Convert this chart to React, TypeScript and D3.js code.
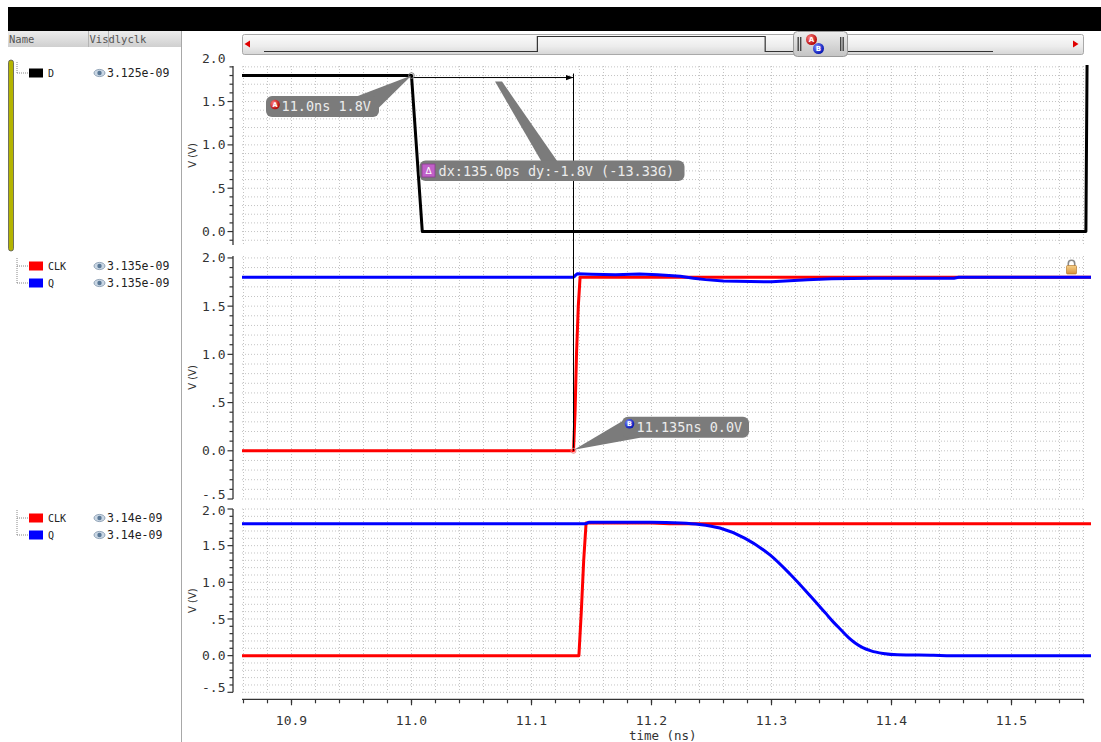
import React from "react";
import * as d3 from "d3";

const W = 1101;
const H = 742;

// ---- time axis (ns) ----
const timeMinorStart = 10.86;
const timeMinorStep = 0.02;
const timeMinorCount = 36;
const timeMajorTicks = [10.9, 11.0, 11.1, 11.2, 11.3, 11.4, 11.5];
const timeTickLabels = ["10.9", "11.0", "11.1", "11.2", "11.3", "11.4", "11.5"];

// ---- voltage tick labels ----
const topTicks = [2.0, 1.5, 1.0, 0.5, 0.0];
const topTickLabels = ["2.0", "1.5", "1.0", ".5", "0.0"];
const lowTicks = [2.0, 1.5, 1.0, 0.5, 0.0, -0.5];
const lowTickLabels = ["2.0", "1.5", "1.0", ".5", "0.0", "-.5"];

// ---- waveforms: [time ns, volts] ----
const dWave: [number, number][] = [
  [10.85, 1.8], [11.0, 1.8], [11.009, 0.0], [11.562, 0.0], [11.563, 2.0],
];

const clkWaveA: [number, number][] = [
  [10.85, 0.0], [11.135, 0.0], [11.1363, 0.4], [11.1375, 1.0], [11.139, 1.5],
  [11.1405, 1.8], [11.57, 1.8],
];
const qWaveA: [number, number][] = [
  [10.85, 1.8], [11.135, 1.8], [11.138, 1.835], [11.15, 1.83], [11.17, 1.825],
  [11.19, 1.833], [11.205, 1.825], [11.224, 1.81], [11.235, 1.79], [11.245, 1.775],
  [11.26, 1.76], [11.3, 1.752], [11.315, 1.763], [11.33, 1.773], [11.35, 1.783],
  [11.385, 1.79], [11.452, 1.79], [11.456, 1.8], [11.57, 1.8],
];

const clkWaveB: [number, number][] = [
  [10.85, 0.0], [11.1395, 0.0], [11.1415, 0.6], [11.1435, 1.3], [11.1455, 1.81],
  [11.2, 1.81], [11.215, 1.8], [11.57, 1.8],
];
const qWaveB: [number, number][] = [
  [10.85, 1.8], [11.145, 1.8], [11.148, 1.82], [11.2, 1.82], [11.224, 1.81],
  [11.24, 1.79], [11.257, 1.74], [11.278, 1.6], [11.299, 1.37], [11.315, 1.12],
  [11.332, 0.82], [11.345, 0.58], [11.352, 0.45], [11.358, 0.35], [11.364, 0.25],
  [11.37, 0.17], [11.376, 0.11], [11.383, 0.065], [11.393, 0.03], [11.405, 0.012],
  [11.435, 0.005], [11.45, 0.0], [11.57, 0.0],
];

// ---- overview strip (full run, ns) ----
const overviewWave: [number, number][] = [
  [0, 0], [12, 0], [12, 1.8], [22, 1.8], [22, 0], [32, 0],
];

// ---- markers ----
const markerA = { t: 11.0, v: 1.8 };
const markerB = { t: 11.135, v: 0.0 };

const MONO = "'DejaVu Sans Mono', monospace";
const SANS = "'DejaVu Sans', sans-serif";

const x = d3.scaleLinear().domain([10.86, 11.56]).range([243.5, 1083.5]);
const plotLeft = 242;
const plotClipRight = 1091;
const axisX = 233;

type Series = { data: [number, number][]; color: string; smooth?: boolean };
type Panel = {
  id: string;
  y: d3.ScaleLinear<number, number>;
  ticks: number[];
  labels: string[];
  series: Series[];
};

const panels: Panel[] = [
  {
    id: "p1",
    y: d3.scaleLinear().domain([-0.155, 1.91]).range([245, 66]),
    ticks: topTicks,
    labels: topTickLabels,
    series: [{ data: dWave, color: "#000000" }],
  },
  {
    id: "p2",
    y: d3.scaleLinear().domain([-0.5, 2.02]).range([499, 256]),
    ticks: lowTicks,
    labels: lowTickLabels,
    series: [
      { data: clkWaveA, color: "#ff0000" },
      { data: qWaveA, color: "#0000ff" },
    ],
  },
  {
    id: "p3",
    y: d3.scaleLinear().domain([-0.5, 2.0]).range([692.3, 509]),
    ticks: lowTicks,
    labels: lowTickLabels,
    series: [
      { data: clkWaveB, color: "#ff0000" },
      { data: qWaveB, color: "#0000ff", smooth: true },
    ],
  },
];

const minorTimes = d3.range(timeMinorCount).map((i) => timeMinorStart + i * timeMinorStep);

function tenths(domain: number[]) {
  const lo = Math.ceil(domain[0] * 10 - 1e-6);
  const hi = Math.floor(domain[1] * 10 + 1e-6);
  return d3.range(lo, hi + 1).map((i) => i / 10);
}

function Eye({ cx, cy }: { cx: number; cy: number }) {
  return (
    <g>
      <ellipse cx={cx} cy={cy} rx={5.5} ry={3.6} fill="#c9d6e3" stroke="#7d93aa" strokeWidth={0.8} />
      <circle cx={cx} cy={cy} r={2.2} fill="#5a7896" />
    </g>
  );
}

function LegendRow({ y, color, name, value }: { y: number; color: string; name: string; value: string }) {
  return (
    <g>
      <line x1={17} x2={28} y1={y} y2={y} stroke="#888" strokeDasharray="1,1" />
      <rect x={29} y={y - 4.5} width={14} height={9} fill={color} />
      <text x={48} y={y} dy="0.35em" fontFamily={MONO} fontSize={10} fill="#222">{name}</text>
      <Eye cx={99.5} cy={y} />
      <text x={107} y={y} dy="0.35em" fontFamily={MONO} fontSize={11.5} fill="#222">{value}</text>
    </g>
  );
}

function Callout({
  box, pointer, children,
}: { box: [number, number, number, number]; pointer: [number, number][]; children: React.ReactNode }) {
  const [bx, by, bw, bh] = box;
  return (
    <g>
      <polygon points={pointer.map((p) => p.join(",")).join(" ")} fill="#7b7b7b" />
      <rect x={bx} y={by} width={bw} height={bh} rx={6} fill="#7b7b7b" />
      {children}
    </g>
  );
}

export default function App() {
  const p1 = panels[0];
  const p2 = panels[1];
  const ax = x(markerA.t);
  const ay = p1.y(markerA.v);
  const bx = x(markerB.t);
  const by = p2.y(markerB.v);

  const dxPs = (markerB.t - markerA.t) * 1000;
  const dyV = markerB.v - markerA.v;
  const slopeG = dyV / (dxPs * 1e-12) / 1e9;
  const labelA = `${markerA.t.toFixed(1)}ns ${markerA.v.toFixed(1)}V`;
  const labelB = `${markerB.t.toFixed(3)}ns ${markerB.v.toFixed(1)}V`;
  const labelD = `dx:${dxPs.toFixed(1)}ps dy:${dyV.toFixed(1)}V (${slopeG.toFixed(2)}G)`;

  const ovX = d3.scaleLinear().domain([0, 32]).range([264, 993]);
  const ovY = d3.scaleLinear().domain([0, 1.8]).range([51.5, 36.5]);
  const ovLine = d3.line<[number, number]>().x((d) => ovX(d[0])).y((d) => ovY(d[1]));

  const lastPanel = panels[2];
  const xAxisY = lastPanel.y.range()[0] + 7;

  return (
    <svg
      width={W}
      height={H}
      viewBox={`0 0 ${W} ${H}`}
      style={{ position: "absolute", left: 0, top: 0, background: "#ffffff" }}
    >
      <defs>
        <linearGradient id="hdr" x1="0" y1="0" x2="0" y2="1">
          <stop offset="0" stopColor="#ededed" />
          <stop offset="1" stopColor="#cfcfcf" />
        </linearGradient>
        <linearGradient id="scroll" x1="0" y1="0" x2="0" y2="1">
          <stop offset="0" stopColor="#fbfbfb" />
          <stop offset="0.6" stopColor="#ececec" />
          <stop offset="1" stopColor="#d6d6d6" />
        </linearGradient>
        <linearGradient id="thumb" x1="0" y1="0" x2="0" y2="1">
          <stop offset="0" stopColor="#eeeeee" />
          <stop offset="1" stopColor="#c4c4c4" />
        </linearGradient>
        <linearGradient id="lock" x1="0" y1="0" x2="0" y2="1">
          <stop offset="0" stopColor="#f6d08a" />
          <stop offset="1" stopColor="#d8933a" />
        </linearGradient>
        <radialGradient id="ballA" cx="0.35" cy="0.35" r="0.7">
          <stop offset="0" stopColor="#ff8080" />
          <stop offset="1" stopColor="#b00000" />
        </radialGradient>
        <radialGradient id="ballB" cx="0.35" cy="0.35" r="0.7">
          <stop offset="0" stopColor="#7f8cff" />
          <stop offset="1" stopColor="#0010b0" />
        </radialGradient>
        {panels.map((p) => {
          const [b, t] = p.y.range();
          return (
            <clipPath id={`clip-${p.id}`} key={p.id}>
              <rect x={plotLeft} y={t - 1} width={plotClipRight - plotLeft} height={b - t + 2} />
            </clipPath>
          );
        })}
        <marker id="arrowR" viewBox="0 0 10 10" refX="10" refY="5" markerWidth="8" markerHeight="8" orient="auto">
          <path d="M0,1.5 L10,5 L0,8.5 z" fill="#000" />
        </marker>
      </defs>

      {/* title bar */}
      <rect x={8} y={7} width={W - 8} height={24} fill="#000" />

      {/* signal list header */}
      <rect x={8} y={31} width={174} height={16} fill="url(#hdr)" />
      <line x1={88.5} x2={88.5} y1={31} y2={47} stroke="#b5b5b5" />
      <line x1={108.5} x2={108.5} y1={31} y2={47} stroke="#b5b5b5" />
      <text x={9} y={39} dy="0.35em" fontFamily={MONO} fontSize={10.5} fill="#555">Name</text>
      <text x={89.5} y={39} dy="0.35em" fontFamily={MONO} fontSize={10.5} fill="#555">Visdlyclk</text>
      <line x1={181.5} x2={181.5} y1={31} y2={H} stroke="#a8a8a8" />

      {/* group bar for top strip */}
      <rect x={8.5} y={60} width={5} height={191} rx={2.5} fill="#b4b400" stroke="#555" strokeWidth={0.8} />
      <line x1={17} x2={17} y1={62} y2={73} stroke="#888" strokeDasharray="1,1" />
      <LegendRow y={73} color="#000000" name="D" value="3.125e-09" />

      <line x1={17} x2={17} y1={258} y2={283} stroke="#888" strokeDasharray="1,1" />
      <LegendRow y={266} color="#ff0000" name="CLK" value="3.135e-09" />
      <LegendRow y={283} color="#0000ff" name="Q" value="3.135e-09" />

      <line x1={17} x2={17} y1={510} y2={535} stroke="#888" strokeDasharray="1,1" />
      <LegendRow y={518} color="#ff0000" name="CLK" value="3.14e-09" />
      <LegendRow y={535} color="#0000ff" name="Q" value="3.14e-09" />

      {/* overview / scroll strip */}
      <rect x={242.5} y={34.5} width={841} height={20} rx={2} fill="url(#scroll)" stroke="#a9a9a9" />
      <path d={ovLine(overviewWave) || ""} fill="none" stroke="#333" strokeWidth={1.2} />
      <path d="M244.5,44 L250,40.5 L250,47.5 z" fill="#e00000" />
      <path d="M1078.5,44 L1073,40.5 L1073,47.5 z" fill="#e00000" />
      <rect x={793.5} y={31.5} width={54} height={25} rx={4} fill="url(#thumb)" stroke="#9a9a9a" />
      <rect x={797.5} y={37} width={1.4} height={14} fill="#444" />
      <rect x={800} y={37} width={1.4} height={14} fill="#444" />
      <rect x={840} y={37} width={1.4} height={14} fill="#444" />
      <rect x={842.5} y={37} width={1.4} height={14} fill="#444" />
      <circle cx={811.5} cy={39.5} r={5.5} fill="url(#ballA)" />
      <text x={811.5} y={39.8} dy="0.35em" textAnchor="middle" fontFamily={SANS} fontSize={7} fontWeight="bold" fill="#fff">A</text>
      <circle cx={818.5} cy={48.5} r={5.5} fill="url(#ballB)" />
      <text x={818.5} y={48.8} dy="0.35em" textAnchor="middle" fontFamily={SANS} fontSize={7} fontWeight="bold" fill="#fff">B</text>

      {/* strips */}
      {panels.map((p) => {
        const [b, t] = p.y.range();
        const [d0, d1] = p.y.domain();
        const gridV = tenths(p.y.domain());
        const line = d3
          .line<[number, number]>()
          .x((d) => x(d[0]))
          .y((d) => p.y(d[1]));
        const smoothLine = d3
          .line<[number, number]>()
          .x((d) => x(d[0]))
          .y((d) => p.y(d[1]))
          .curve(d3.curveMonotoneX);
        const mid = (t + b) / 2;
        return (
          <g key={p.id}>
            {/* grid */}
            {minorTimes.map((tm, i) => (
              <line key={`gv${i}`} x1={x(tm)} x2={x(tm)} y1={t} y2={b} stroke="#c4c4c4" strokeDasharray="1,2" />
            ))}
            {gridV.map((v, i) => (
              <line key={`gh${i}`} x1={plotLeft} x2={x(11.56)} y1={p.y(v)} y2={p.y(v)} stroke="#c4c4c4" strokeDasharray="1,2" />
            ))}
            {/* y axis */}
            <line x1={axisX} x2={axisX} y1={t} y2={b} stroke="#333" strokeWidth={1.3} />
            {gridV.map((v, i) => {
              const major = Math.abs(v * 2 - Math.round(v * 2)) < 1e-6;
              return (
                <line key={`yt${i}`} x1={axisX - (major ? 5.5 : 3.5)} x2={axisX} y1={p.y(v)} y2={p.y(v)} stroke="#333" strokeWidth={1.2} />
              );
            })}
            {p.ticks.map((v, i) => {
              const inside = v >= d0 - 1e-6 && v <= d1 + 1e-6;
              const yy = inside ? Math.max(t + 1, Math.min(b - 4.5, p.y(v))) : p.y(v);
              return (
                <text key={`yl${i}`} x={225.5} y={yy} dy="0.35em" textAnchor="end" fontFamily={MONO} fontSize={13} fill="#333">
                  {p.labels[i]}
                </text>
              );
            })}
            <text
              transform={`translate(192,${mid}) rotate(-90)`}
              textAnchor="middle"
              dy="0.35em"
              fontFamily={SANS}
              fontSize={10}
              fill="#333"
            >
              V (V)
            </text>
            {/* traces */}
            <g clipPath={`url(#clip-${p.id})`}>
              {p.series.map((s, i) => (
                <path
                  key={`s${i}`}
                  d={(s.smooth ? smoothLine(s.data) : line(s.data)) || ""}
                  fill="none"
                  stroke={s.color}
                  strokeWidth={3}
                  strokeLinejoin="round"
                  strokeLinecap="round"
                />
              ))}
            </g>
          </g>
        );
      })}

      {/* time axis */}
      <line x1={plotLeft} x2={x(11.56)} y1={xAxisY} y2={xAxisY} stroke="#333" strokeWidth={1.3} />
      {minorTimes.map((tm, i) => (
        <line key={`xt${i}`} x1={x(tm)} x2={x(tm)} y1={xAxisY} y2={xAxisY + 4} stroke="#333" strokeWidth={1.2} />
      ))}
      {timeMajorTicks.map((tm, i) => (
        <g key={`xm${i}`}>
          <line x1={x(tm)} x2={x(tm)} y1={xAxisY} y2={xAxisY + 6} stroke="#333" strokeWidth={1.2} />
          <text x={x(tm)} y={xAxisY + 21} dy="0.35em" textAnchor="middle" fontFamily={MONO} fontSize={13} fill="#333">
            {timeTickLabels[i]}
          </text>
        </g>
      ))}
      <text x={(plotLeft + x(11.56)) / 2} y={736} dy="0.35em" textAnchor="middle" fontFamily={MONO} fontSize={12.5} fill="#333">
        time (ns)
      </text>

      {/* lock badge */}
      <g>
        <path d="M1068.3,266 v-2.5 a3.2,3.2 0 0 1 6.4,0 v2.5" fill="none" stroke="#8a8a8a" strokeWidth={1.6} />
        <rect x={1066.5} y={265.5} width={10} height={8.5} rx={1} fill="url(#lock)" stroke="#b07020" strokeWidth={0.6} />
      </g>

      {/* marker A -> B delta */}
      <line x1={bx} x2={bx} y1={ay - 2} y2={by} stroke="#000" strokeWidth={1} />
      <line x1={ax} x2={bx} y1={ay + 2} y2={ay + 2} stroke="#000" strokeWidth={1} markerEnd="url(#arrowR)" />
      <circle cx={ax} cy={ay} r={2.8} fill="none" stroke="#888" strokeWidth={1} />
      <circle cx={bx} cy={by} r={2.5} fill="none" stroke="#e88" strokeWidth={1} />

      <Callout
        box={[ax - 145.5, ay + 20.5, 113, 21]}
        pointer={[[ax - 55, ay + 21], [ax - 32.5, ay + 32], [ax, ay]]}
      >
        <circle cx={ax - 136.5} cy={ay + 29} r={4.8} fill="url(#ballA)" />
        <text x={ax - 136.5} y={ay + 29.3} dy="0.35em" textAnchor="middle" fontFamily={SANS} fontSize={6.5} fontWeight="bold" fill="#fff">A</text>
        <text x={ax - 130} y={ay + 31} dy="0.35em" fontFamily={MONO} fontSize={13.5} fill="#ececec">{labelA}</text>
      </Callout>

      <Callout
        box={[ax + 8, ay + 85, 265, 20.5]}
        pointer={[[ax + 83.5, ay + 6], [ax + 90.5, ay + 6], [ax + 146, ay + 86], [ax + 130, ay + 86]]}
      >
        <rect x={ax + 10.5} y={ay + 88.5} width={13} height={13} fill="#c060c8" stroke="#8a3a90" strokeWidth={0.8} />
        <text x={ax + 17} y={ay + 95.5} dy="0.35em" textAnchor="middle" fontFamily={SANS} fontSize={9} fill="#fff">Δ</text>
        <text x={ax + 27} y={ay + 95.5} dy="0.35em" fontFamily={MONO} fontSize={13.5} fill="#ececec">{labelD}</text>
      </Callout>

      <Callout
        box={[bx + 48.5, by - 34, 127, 21]}
        pointer={[[bx + 49.5, by - 30], [bx + 66.5, by - 13], [bx + 0.5, by - 1]]}
      >
        <circle cx={bx + 56} cy={by - 27} r={4.8} fill="url(#ballB)" />
        <text x={bx + 56} y={by - 26.7} dy="0.35em" textAnchor="middle" fontFamily={SANS} fontSize={6.5} fontWeight="bold" fill="#fff">B</text>
        <text x={bx + 63} y={by - 23.5} dy="0.35em" fontFamily={MONO} fontSize={13.5} fill="#ececec">{labelB}</text>
      </Callout>
    </svg>
  );
}
